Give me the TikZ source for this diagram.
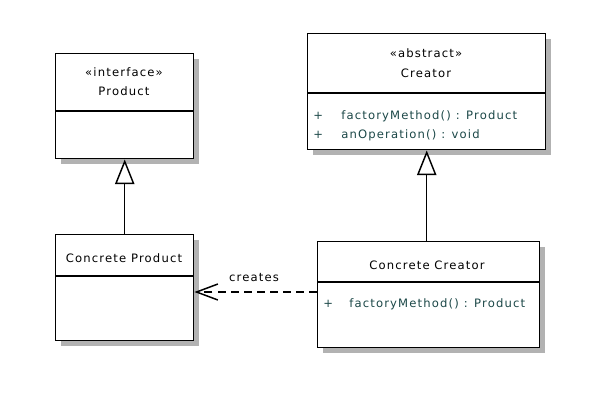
\documentclass[tikz,border=0pt]{standalone}
\usepackage{fontspec}
\setmainfont{DejaVu Sans}[LetterSpace=10]
\usetikzlibrary{arrows.meta,shadows,calc}
\definecolor{methodcol}{RGB}{28,72,72}
\definecolor{shadowcol}{RGB}{178,178,178}
\tikzset{
  umlbox/.style={draw=black, line width=1.1pt, fill=white, inner sep=0pt, anchor=north west,
    drop shadow={shadow xshift=3.6pt, shadow yshift=-3.6pt, fill=shadowcol, opacity=1}},
  divline/.style={line width=1pt},
  txt/.style={inner sep=0pt, font=\fontsize{8.7}{10}\selectfont},
  meth/.style={inner sep=0pt, anchor=west, text=methodcol, font=\fontsize{8.7}{10}\selectfont},
  gen/.style={line width=1.1pt, -{Triangle[open, length=18.5pt, width=14.5pt, line width=1.1pt]}},
  dep/.style={line width=1.1pt, dash pattern=on 6pt off 3.8pt, -{Straight Barb[length=16pt, width=12pt, line width=1.1pt]}}
}
\begin{document}
\begin{tikzpicture}[x=0.75pt, y=-0.75pt]
\useasboundingbox (0,0) rectangle (604,405);
% boxes
\node[umlbox, minimum width=138*0.75pt, minimum height=105*0.75pt] (prod) at (55,53) {};
\node[umlbox, minimum width=238*0.75pt, minimum height=116*0.75pt] (creator) at (307,33) {};
\node[umlbox, minimum width=138*0.75pt, minimum height=106*0.75pt] (cprod) at (55,234) {};
\node[umlbox, minimum width=222*0.75pt, minimum height=106*0.75pt] (ccreat) at (317,241) {};
% dividers
\draw[divline] ($(prod.north west)+(0,58)$) -- ($(prod.north east)+(0,58)$);
\draw[divline] ($(creator.north west)+(0,60)$) -- ($(creator.north east)+(0,60)$);
\draw[divline] ($(cprod.north west)+(0,42)$) -- ($(cprod.north east)+(0,42)$);
\draw[divline] ($(ccreat.north west)+(0,41)$) -- ($(ccreat.north east)+(0,41)$);
% texts
\node[txt] (prodst) at (124,72) {«interface»};
\node[txt] (prodnm) at (124,91) {Product};
\node[txt] (creatst) at (426,53) {«abstract»};
\node[txt] (creatnm) at (426,73) {Creator};
\node[meth] (p1) at (313,116) {+};
\node[meth] (m1) at (341,116) {factoryMethod() : Product};
\node[meth] (p2) at (313,135) {+};
\node[meth] (m2) at (341,135) {anOperation() : void};
\node[txt] (cprodnm) at (124,258) {Concrete Product};
\node[txt] (ccreatnm) at (427,265) {Concrete Creator};
\node[meth] (p3) at (323,304) {+};
\node[meth] (m3) at (349,304) {factoryMethod() : Product};
% connectors
\draw[gen] (cprod.north) -- (prod.south);
\draw[gen] (creator.south |- ccreat.north) -- (creator.south);
\coordinate (depstart) at (317,292);
\draw[dep] (depstart) -- (depstart -| cprod.east);
\node[txt] (lbl) at (254,278) {creates};
\end{tikzpicture}
\end{document}
